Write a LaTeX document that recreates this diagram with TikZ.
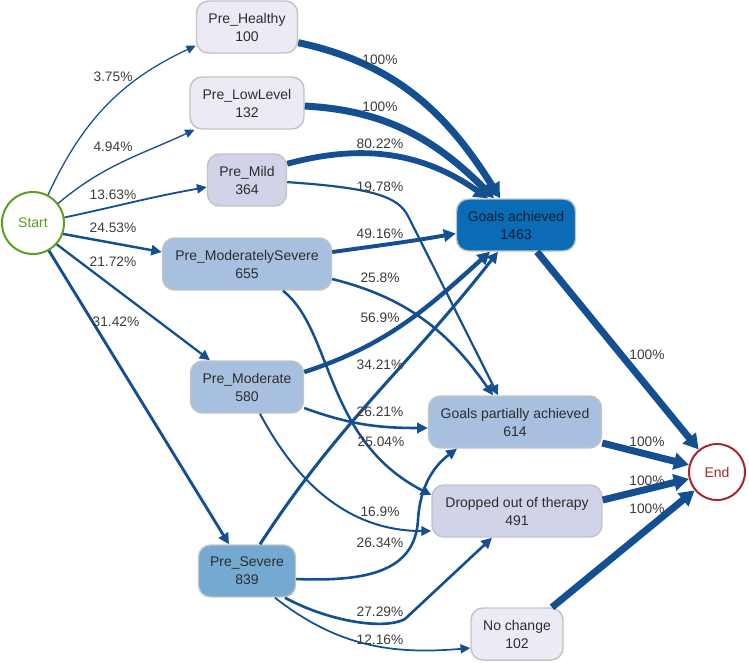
\documentclass[tikz,border=0pt]{standalone}
\usepackage{fontspec}
\setmainfont{Liberation Sans}
\usetikzlibrary{arrows.meta,calc}
\definecolor{edgeblue}{RGB}{20,80,145}
\definecolor{boxgray}{RGB}{196,196,196}
\definecolor{cA}{RGB}{236,234,244}
\definecolor{cB}{RGB}{209,211,233}
\definecolor{cC}{RGB}{167,192,224}
\definecolor{cD}{RGB}{116,170,210}
\definecolor{cE}{RGB}{10,108,180}
\definecolor{startgreen}{RGB}{90,160,30}
\definecolor{endred}{RGB}{165,40,45}
\definecolor{textdark}{RGB}{45,45,45}
\definecolor{labelgray}{RGB}{60,60,60}
\definecolor{gatext}{RGB}{15,30,50}
\tikzset{
  box/.style={draw=boxgray, line width=1.1pt, rounded corners=9pt, align=center,
    inner sep=0pt, minimum height=39pt, text=textdark,
    font=\fontsize{10.5}{13.5}\selectfont},
  term/.style={circle, draw, line width=1.5pt, fill=white, inner sep=0pt,
    font=\fontsize{10.5}{13.5}\selectfont},
  flow/.style={draw=edgeblue, line width=#1,
    -{Triangle[length=6pt 1.0, width=5pt 1.4]}},
  pct/.style={font=\fontsize{10.3}{12}\selectfont, text=labelgray, inner sep=1pt},
}
\begin{document}
\begin{tikzpicture}[x=0.75pt,y=0.75pt]
\useasboundingbox (0,0) rectangle (749,-662);
% terminals
\node[term, draw=startgreen, text=startgreen, minimum size=46.5pt] (start) at (33,-223) {Start};
\node[term, draw=endred, text=endred, minimum size=42pt] (end) at (717,-472) {End};
% pre states
\node[box, fill=cA, minimum width=75.75pt] (hea) at (247,-27) {Pre\_Healthy\\100};
\node[box, fill=cA, minimum width=85.5pt] (low) at (247,-103) {Pre\_LowLevel\\132};
\node[box, fill=cB, minimum width=59.25pt] (mild) at (247,-180) {Pre\_Mild\\364};
\node[box, fill=cC, minimum width=126.75pt] (mods) at (247,-264) {Pre\_ModeratelySevere\\655};
\node[box, fill=cC, minimum width=84.75pt] (mod) at (247,-387) {Pre\_Moderate\\580};
\node[box, fill=cD, minimum width=72.75pt] (sev) at (247,-571) {Pre\_Severe\\839};
% outcomes
\node[box, fill=cE, text=gatext, minimum width=89.25pt] (ga) at (516,-225) {Goals achieved\\1463};
\node[box, fill=cC, minimum width=129.75pt] (gp) at (515,-422) {Goals partially achieved\\614};
\node[box, fill=cB, minimum width=127.5pt] (dr) at (517,-511) {Dropped out of therapy\\491};
\node[box, fill=cA, minimum width=69pt] (nc) at (517,-634) {No change\\102};
% from start
\draw[flow=0.95pt] (start.62) to[out=65,in=205] (hea.-160);
\draw[flow=1.0pt] (start.38) to[out=40,in=205] (low.-153);
\draw[flow=1.36pt] (start.10) to[out=12,in=190] (mild.-170);
\draw[flow=1.85pt] (start.-20) -- (mods.172);
\draw[flow=1.73pt] (start.-42) -- ([xshift=-27.75pt]mod.north);
\draw[flow=2.16pt] (start.-60) -- ([xshift=-13.5pt]sev.north);
% to goals achieved
\draw[flow=5.25pt] (hea.-17) to[out=-12,in=122] ([xshift=-12pt]ga.north);
\draw[flow=5.25pt] (low.-3) to[out=-3,in=135] ([xshift=-16.5pt]ga.north);
\draw[flow=4.36pt] (mild.22) to[out=15,in=145] ([xshift=-21pt]ga.north);
\draw[flow=2.96pt] (mods.8) to[out=8,in=190] (ga.-172);
\draw[flow=3.31pt] ([yshift=11.25pt]mod.east) to[out=18,in=222] ([xshift=-19.5pt]ga.south);
\draw[flow=2.29pt] ([xshift=9.75pt]sev.north) to[out=57,in=232] ([xshift=-13.5pt]ga.south);
% to goals partially achieved
\draw[flow=1.64pt] (mild.-3) .. controls (375,-188) and (398,-197) .. (408,-216) -- ([xshift=-12.75pt]gp.north);
\draw[flow=1.91pt] (mods.-10) to[out=-14,in=125] ([xshift=-16.5pt]gp.north);
\draw[flow=1.93pt] ([yshift=-15.75pt]mod.east) to[out=-20,in=180] ([yshift=-4.5pt]gp.west);
\draw[flow=1.94pt] ([yshift=-6pt]sev.east) .. controls (370,-582) and (415,-570) .. (418,-520)
   .. controls (420,-485) and (435,-465) .. ([xshift=-43.5pt]gp.south);
% to dropped out
\draw[flow=1.88pt] ([xshift=27pt]mods.south) .. controls (333,-330) and (324,-440) .. ([yshift=12pt]dr.west);
\draw[flow=1.51pt] ([xshift=9.75pt]mod.south) to[out=-62,in=180] ([yshift=-15pt]dr.west);
\draw[flow=1.98pt] ([xshift=28.5pt]sev.south) .. controls (330,-622) and (385,-630) .. (405,-619) -- ([xshift=-18.75pt]dr.south);
% to no change
\draw[flow=1.3pt] ([xshift=21pt]sev.south) to[out=-38,in=185] ([yshift=-10.5pt]nc.west);
% to end
\draw[flow=5.25pt] ([xshift=15.75pt]ga.south) -- (end);
\draw[flow=5.25pt] ([yshift=-15.75pt]gp.east) -- (end);
\draw[flow=5.25pt] ([yshift=8.25pt]dr.east) -- (end);
\draw[flow=5.25pt] ([xshift=26.25pt]nc.north) -- (end);
% labels
\node[pct] (l1) at (113,-77) {3.75\%};
\node[pct] (l2) at (113,-147) {4.94\%};
\node[pct] (l3) at (113,-195) {13.63\%};
\node[pct] (l4) at (113,-228) {24.53\%};
\node[pct] (l5) at (113,-262) {21.72\%};
\node[pct] (l6) at (116,-322) {31.42\%};
\node[pct] (l7) at (380,-60) {100\%};
\node[pct] (l8) at (380,-107) {100\%};
\node[pct] (l9) at (380,-144) {80.22\%};
\node[pct] (l10) at (380,-187) {19.78\%};
\node[pct] (l11) at (380,-234) {49.16\%};
\node[pct] (l12) at (380,-278) {25.8\%};
\node[pct] (l13) at (380,-318) {56.9\%};
\node[pct] (l14) at (380,-365) {34.21\%};
\node[pct] (l15) at (380,-412) {26.21\%};
\node[pct] (l16) at (381,-442) {25.04\%};
\node[pct] (l17) at (380,-512) {16.9\%};
\node[pct] (l18) at (380,-543) {26.34\%};
\node[pct] (l19) at (380,-612) {27.29\%};
\node[pct] (l20) at (380,-640) {12.16\%};
\node[pct] (l21) at (647,-355) {100\%};
\node[pct] (l22) at (647,-442) {100\%};
\node[pct] (l23) at (647,-481) {100\%};
\node[pct] (l24) at (647,-509) {100\%};
\end{tikzpicture}
\end{document}
